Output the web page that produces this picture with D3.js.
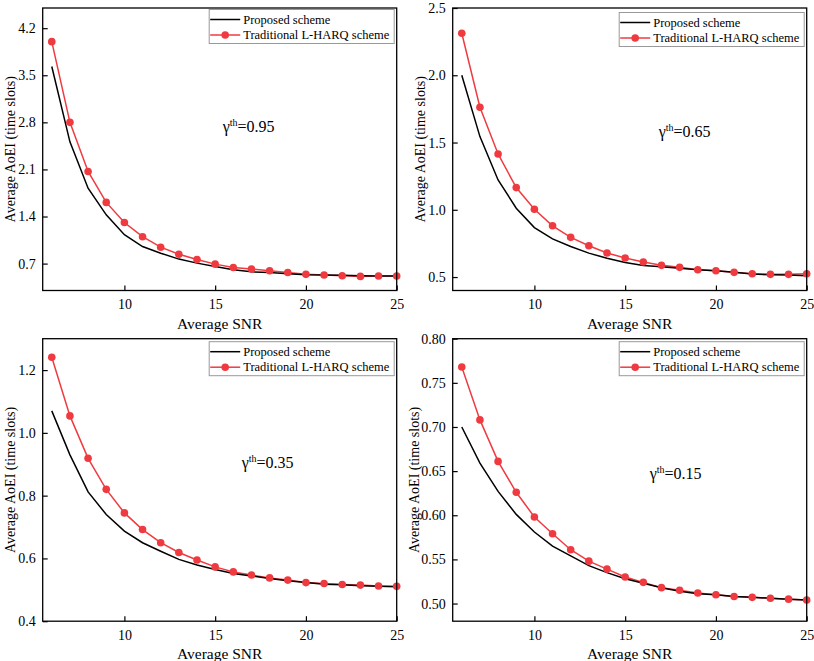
<!DOCTYPE html>
<html>
<head>
<meta charset="utf-8">
<script src="https://cdn.jsdelivr.net/npm/d3@7"></script>
<style>
  body { margin: 0; background: #fff; }
  svg { display: block; font-family: 'Liberation Serif', 'Times New Roman', serif; }
  .axis path { display: none; }
  .axis line { stroke: #000; stroke-width: 1.2; }
  .axis text { font-family: 'Liberation Serif', 'Times New Roman', serif; font-size: 14px; fill: #000; }
</style>
</head>
<body>
<svg width="814" height="661"></svg>
<script>
let snr = [6, 7, 8, 9, 10, 11, 12, 13, 14, 15, 16, 17, 18, 19, 20, 21, 22, 23, 24, 25]

let proposed95 = [3.63, 2.51, 1.82, 1.425, 1.13, 0.954, 0.855, 0.767, 0.707, 0.657, 0.607, 0.577, 0.568, 0.548, 0.535, 0.53, 0.525, 0.52, 0.515, 0.515]
let lharq95 = [4.0, 2.8, 2.07, 1.61, 1.31, 1.10, 0.944, 0.84, 0.76, 0.692, 0.643, 0.618, 0.593, 0.568, 0.54, 0.53, 0.52, 0.51, 0.515, 0.515]

let proposed65 = [2.0, 1.544, 1.222, 1.012, 0.868, 0.784, 0.727, 0.678, 0.64, 0.608, 0.585, 0.577, 0.566, 0.554, 0.547, 0.535, 0.522, 0.518, 0.515, 0.51]
let lharq65 = [2.312, 1.762, 1.415, 1.165, 1.004, 0.881, 0.795, 0.733, 0.679, 0.642, 0.612, 0.587, 0.572, 0.554, 0.547, 0.535, 0.524, 0.52, 0.52, 0.524]

let proposed35 = [1.07, 0.93, 0.812, 0.74, 0.687, 0.65, 0.623, 0.597, 0.579, 0.565, 0.552, 0.544, 0.536, 0.529, 0.523, 0.518, 0.516, 0.513, 0.511, 0.51]
let lharq35 = [1.241, 1.054, 0.919, 0.82, 0.745, 0.692, 0.65, 0.619, 0.595, 0.573, 0.557, 0.547, 0.538, 0.531, 0.523, 0.52, 0.517, 0.515, 0.512, 0.511]

let proposed15 = [0.70, 0.659, 0.627, 0.601, 0.581, 0.565, 0.554, 0.543, 0.535, 0.528, 0.523, 0.518, 0.514, 0.511, 0.51, 0.508, 0.507, 0.506, 0.505, 0.504]
let lharq15 = [0.768, 0.708, 0.661, 0.626, 0.598, 0.579, 0.561, 0.548, 0.539, 0.530, 0.524, 0.518, 0.515, 0.512, 0.510, 0.508, 0.507, 0.506, 0.505, 0.504]

let xTicks = [10, 15, 20, 25]
let yTicks95 = [0.7, 1.4, 2.1, 2.8, 3.5, 4.2]
let yTicks65 = [0.5, 1.0, 1.5, 2.0, 2.5]
let yTicks35 = [0.4, 0.6, 0.8, 1.0, 1.2]
let yTicks15 = [0.50, 0.55, 0.60, 0.65, 0.70, 0.75, 0.80]

let gammas = ['0.95', '0.65', '0.35', '0.15']
let legendNames = ['Proposed scheme', 'Traditional L-HARQ scheme']

let red = '#ef3b40'

let panels = [
  { left: 42.7, top: 8, prop: proposed95, trad: lharq95, ticks: yTicks95, dom: [0.3, 4.5], fmt: '.1f', g: gammas[0], ann: [180, 124], leg: 1.5, yt: -28 },
  { left: 452.7, top: 8, prop: proposed65, trad: lharq65, ticks: yTicks65, dom: [0.4, 2.5], fmt: '.1f', g: gammas[1], ann: [206, 129], leg: 4.5, yt: -28 },
  { left: 42.7, top: 338.7, prop: proposed35, trad: lharq35, ticks: yTicks35, dom: [0.4, 1.3], fmt: '.1f', g: gammas[2], ann: [199, 129.5], leg: 3, yt: -28 },
  { left: 452.7, top: 338.7, prop: proposed15, trad: lharq15, ticks: yTicks15, dom: [0.48, 0.8], fmt: '.2f', g: gammas[3], ann: [197, 140.5], leg: 3, yt: -34 }
]

let w = 354
let h = 282.5

let svg = d3.select('svg')

panels.forEach(p => {
  let g = svg.append('g').attr('transform', 'translate(' + p.left + ',' + p.top + ')')

  let x = d3.scaleLinear().domain([5.5, 25]).range([0, w])
  let y = d3.scaleLinear().domain(p.dom).range([h, 0])

  // axes, ticks point inwards
  g.append('g')
    .attr('class', 'axis')
    .attr('transform', 'translate(0,' + h + ')')
    .call(d3.axisBottom(x).tickValues(xTicks).tickSize(-5).tickPadding(9))

  g.append('g')
    .attr('class', 'axis')
    .call(d3.axisLeft(y).tickValues(p.ticks).tickFormat(d3.format(p.fmt)).tickSize(-5).tickPadding(7))

  let line = d3.line()
    .x((d, i) => x(snr[i]))
    .y(d => y(d))

  g.append('path')
    .datum(p.trad)
    .attr('d', line)
    .attr('fill', 'none')
    .attr('stroke', red)
    .attr('stroke-width', 1.5)

  g.append('path')
    .datum(p.prop)
    .attr('d', line)
    .attr('fill', 'none')
    .attr('stroke', '#000')
    .attr('stroke-width', 1.5)

  g.selectAll('circle')
    .data(p.trad)
    .enter()
    .append('circle')
    .attr('cx', (d, i) => x(snr[i]))
    .attr('cy', d => y(d))
    .attr('r', 3.8)
    .attr('fill', red)

  // frame
  g.append('rect')
    .attr('width', w)
    .attr('height', h)
    .attr('fill', 'none')
    .attr('stroke', '#000')
    .attr('stroke-width', 1.3)

  // legend
  let lg = g.append('g').attr('transform', 'translate(' + (w - 187.5) + ',' + p.leg + ')')
  lg.append('rect')
    .attr('width', 185)
    .attr('height', 34)
    .attr('fill', '#fff')
    .attr('stroke', '#999')
    .attr('stroke-width', 1)
  lg.append('line')
    .attr('x1', 1).attr('x2', 31).attr('y1', 10).attr('y2', 10)
    .attr('stroke', '#000').attr('stroke-width', 1.5)
  lg.append('line')
    .attr('x1', 1).attr('x2', 31).attr('y1', 25.5).attr('y2', 25.5)
    .attr('stroke', red).attr('stroke-width', 1.5)
  lg.append('circle')
    .attr('cx', 16).attr('cy', 25.5).attr('r', 3.8).attr('fill', red)
  lg.selectAll('text.lt')
    .data(legendNames)
    .enter()
    .append('text')
    .attr('class', 'lt')
    .attr('x', 34)
    .attr('y', (d, i) => i ? 25.5 : 10)
    .attr('dy', '0.33em')
    .style('font-size', '12.5px')
    .text(d => d)

  // annotation
  let t = g.append('text')
    .attr('x', p.ann[0])
    .attr('y', p.ann[1])
    .style('font-size', '16px')
  t.append('tspan').text('\u03b3')
  t.append('tspan').attr('dy', -6).style('font-size', '10px').text('th')
  t.append('tspan').attr('dy', 6).text('=' + p.g)

  // axis titles
  g.append('text')
    .attr('x', w / 2)
    .attr('y', h + 38)
    .attr('text-anchor', 'middle')
    .style('font-size', '15.5px')
    .text('Average SNR')

  g.append('text')
    .attr('transform', 'translate(' + p.yt + ',' + (h / 2) + ') rotate(-90)')
    .attr('text-anchor', 'middle')
    .style('font-size', '14px')
    .text('Average AoEI (time slots)')
})
</script>
</body>
</html>
